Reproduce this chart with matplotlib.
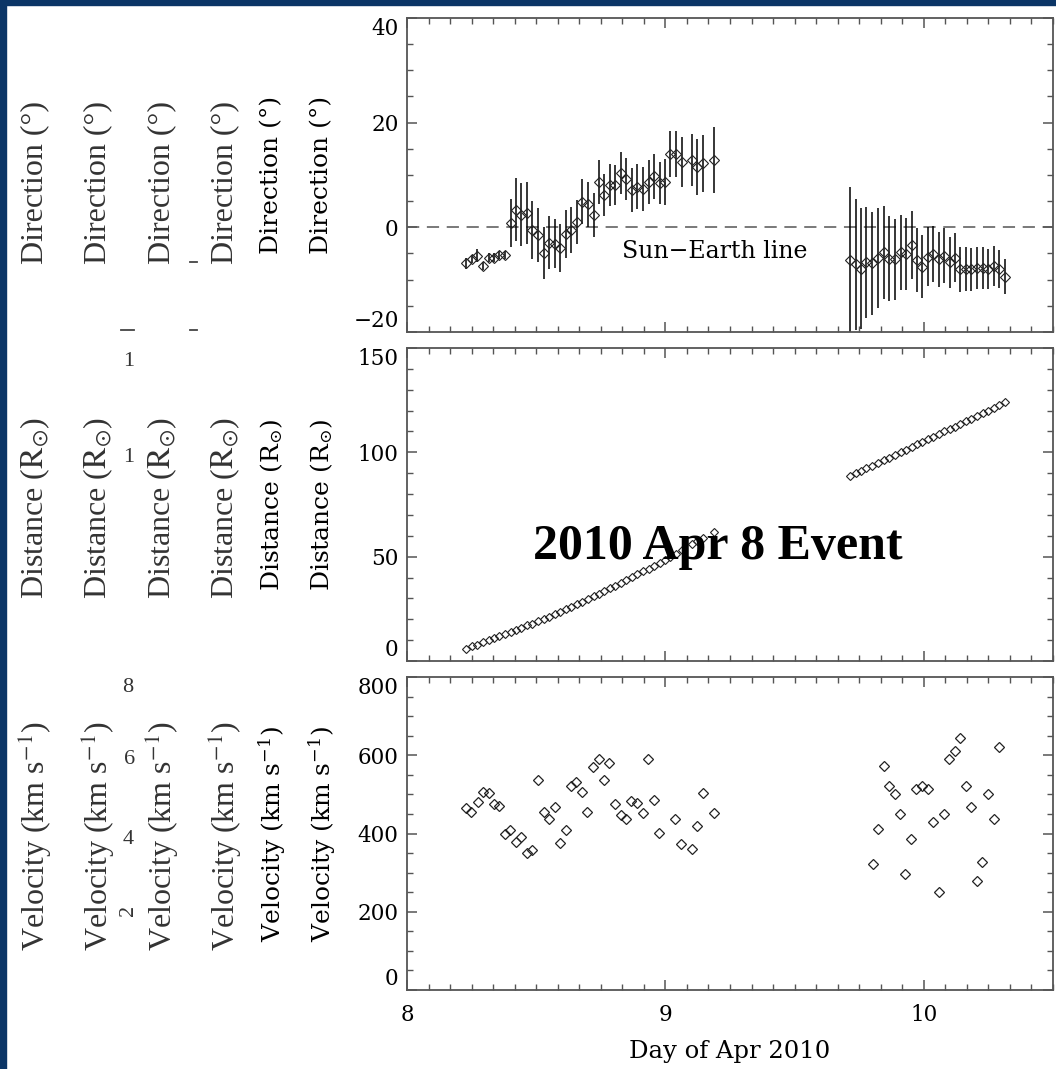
import matplotlib.pyplot as plt
from matplotlib.lines import Line2D
from matplotlib.patches import Rectangle
from matplotlib.ticker import MultipleLocator

plt.rcParams['font.family'] = ['DejaVu Serif']
plt.rcParams['mathtext.fontset'] = 'dejavuserif'

# propagation direction, early track (8-9 Apr)
t_early = [8.227, 8.253, 8.272, 8.294, 8.317, 8.337, 8.356, 8.378, 8.401, 8.421,
           8.443, 8.465, 8.485, 8.507, 8.529, 8.550, 8.572, 8.594, 8.614, 8.636,
           8.658, 8.679, 8.700, 8.723, 8.743, 8.763, 8.784, 8.806, 8.827, 8.849,
           8.871, 8.892, 8.914, 8.935, 8.956, 8.978, 9.000, 9.019, 9.040, 9.064,
           9.104, 9.124, 9.146, 9.188]
dir_early = [-6.9, -6.0, -5.4, -7.4, -5.8, -5.8, -5.3, -5.3, 0.8, 3.4,
             2.4, 2.7, -0.5, -1.5, -4.9, -2.9, -3.1, -4.0, -1.3, -0.5,
             1.1, 4.9, 4.4, 2.4, 8.7, 6.1, 8.1, 8.1, 10.3, 9.2,
             7.1, 7.8, 7.4, 8.7, 9.8, 8.5, 8.7, 14.0, 14.0, 12.5,
             12.9, 11.5, 12.2, 12.8]
dir_err_early = [1.0, 0.8, 1.3, 0.8, 0.8, 0.8, 0.7, 0.7, 4.6, 6.0,
                 6.0, 5.9, 5.6, 5.2, 4.9, 5.1, 4.7, 4.6, 4.6, 4.4,
                 4.2, 4.3, 4.3, 4.2, 4.2, 4.0, 4.0, 3.9, 4.0, 4.0,
                 4.2, 4.3, 4.2, 4.2, 4.3, 4.0, 4.4, 4.4, 4.4, 4.7,
                 5.0, 5.3, 5.5, 6.3]
dist_early = [5.8, 7.0, 7.9, 8.9, 10.0, 11.0, 11.9, 12.9, 13.9, 14.9,
              16.0, 17.1, 17.9, 19.1, 20.2, 21.3, 22.6, 23.7, 24.9, 26.1,
              27.3, 28.4, 29.7, 31.0, 32.2, 33.4, 34.8, 36.0, 37.4, 38.8,
              40.1, 41.5, 42.9, 44.3, 45.7, 47.1, 48.6, 50.0, 51.4, 53.0,
              55.9, 57.3, 58.8, 62.0]

# late track (9-10 Apr)
t_late = [9.716, 9.736, 9.758, 9.778, 9.800, 9.823, 9.845, 9.867, 9.888, 9.910,
          9.932, 9.953, 9.974, 9.994, 10.015, 10.036, 10.058, 10.080, 10.100, 10.120,
          10.142, 10.164, 10.184, 10.206, 10.228, 10.249, 10.270, 10.292, 10.313]
dir_late = [-6.3, -7.1, -7.9, -6.7, -6.9, -5.9, -4.8, -6.0, -6.1, -4.8,
            -5.1, -3.4, -6.2, -7.5, -5.6, -5.1, -6.1, -5.4, -6.7, -5.8,
            -8.0, -8.0, -8.0, -7.7, -7.7, -8.0, -7.4, -8.0, -9.4]
dir_err_late = [14.1, 12.6, 11.6, 10.6, 9.9, 9.5, 8.9, 8.1, 7.7, 7.1,
                6.9, 6.5, 6.1, 6.0, 5.7, 5.4, 5.3, 5.2, 4.8, 4.7,
                4.3, 4.2, 4.1, 4.0, 4.0, 3.8, 3.8, 3.6, 3.3]
dist_late = [88.7, 90.0, 91.2, 92.3, 93.6, 94.9, 96.1, 97.5, 98.7, 100.0,
             101.3, 102.5, 103.8, 105.0, 106.2, 107.5, 108.7, 110.0, 111.2, 112.3,
             113.6, 115.0, 116.2, 117.4, 118.7, 119.9, 121.2, 122.6, 124.0]

# velocity from the distance tracks
tv_early = [8.227, 8.249, 8.275, 8.294, 8.316, 8.337, 8.356, 8.378, 8.400, 8.421,
            8.443, 8.465, 8.485, 8.507, 8.529, 8.550, 8.572, 8.594, 8.614, 8.636,
            8.655, 8.677, 8.698, 8.720, 8.742, 8.763, 8.782, 8.806, 8.827, 8.849,
            8.868, 8.890, 8.914, 8.933, 8.955, 8.975, 9.039, 9.059, 9.103, 9.124,
            9.146, 9.187]
vel_early = [464, 456, 481, 505, 503, 475, 471, 400, 409, 379,
             392, 351, 358, 537, 454, 437, 467, 375, 409, 522,
             531, 505, 456, 571, 590, 537, 579, 475, 447, 437,
             484, 477, 452, 591, 486, 402, 437, 373, 360, 419,
             503, 452]
tv_late = [9.803, 9.822, 9.845, 9.865, 9.887, 9.907, 9.929, 9.952, 9.970, 9.994,
           10.015, 10.036, 10.058, 10.080, 10.099, 10.120, 10.142, 10.164, 10.184, 10.206,
           10.226, 10.249, 10.271, 10.290]
vel_late = [322, 412, 573, 522, 501, 450, 296, 386, 515, 522,
            515, 430, 251, 450, 591, 611, 643, 522, 469, 279,
            328, 501, 436, 622]

ylabels = ['Direction (°)', r'Distance ($\mathrm{R}_{⊙}$)', r'Velocity (km s$^{-1}$)']
y_limits = [(-20, 40), (0, 150), (0, 800)]
y_major = [20, 50, 200]
y_minor = [5, 10, 50]

W, H = 1056, 1069
BLUE = '#0b3566'
FRAME = '#555555'
SERIF = ['Liberation Serif', 'DejaVu Serif']

fig = plt.figure(figsize=(W / 100, H / 100), dpi=100)
fig.add_artist(Rectangle((0, 0), 6 / W, 1, transform=fig.transFigure, color=BLUE))
fig.add_artist(Rectangle((0, 1 - 5 / H), 1, 5 / H, transform=fig.transFigure, color=BLUE))

panels = [(18, 332), (348, 661), (677, 990)]
axes = []
for (top, bot), lim, maj, mnr in zip(panels, y_limits, y_major, y_minor):
    ax = fig.add_axes([407 / W, 1 - bot / H, 646 / W, (bot - top) / H])
    ax.set_xlim(8, 10.5)
    ax.set_ylim(*lim)
    ax.xaxis.set_major_locator(MultipleLocator(1))
    ax.xaxis.set_minor_locator(MultipleLocator(1 / 12))
    ax.set_yticks(range(lim[0], lim[1] + 1, maj))
    ax.yaxis.set_minor_locator(MultipleLocator(mnr))
    ax.tick_params(which='both', direction='in', top=True, right=True,
                   color=FRAME, labelsize=15.5)
    ax.tick_params(which='major', length=7.5, width=1.1)
    ax.tick_params(which='minor', length=4.5, width=1.0)
    ax.tick_params(axis='y', pad=6)
    ax.tick_params(axis='x', pad=10)
    # end labels sit inside the axis range
    ylab = ax.get_yticklabels()
    ylab[0].set_va('bottom')
    ylab[-1].set_va('top')
    for sp in ax.spines.values():
        sp.set_color(FRAME)
        sp.set_linewidth(1.3)
    if bot != 990:
        ax.tick_params(axis='x', labelbottom=False)
    axes.append(ax)

ax_dir, ax_dist, ax_vel = axes

# direction with error bars
ax_dir.axhline(0, color=FRAME, lw=1.1, dashes=(8, 5), zorder=1)
for t, v, e in [(t_early, dir_early, dir_err_early), (t_late, dir_late, dir_err_late)]:
    ax_dir.errorbar(t, v, yerr=e, fmt='none', ecolor='black', elinewidth=1.1,
                    capsize=0, zorder=2)
    ax_dir.plot(t, v, 'D', ms=5.4, mfc='none', mec='#222222', mew=0.8, zorder=3)
ax_dir.text(9.19, -4.6, 'Sun\u2212Earth line', ha='center', va='center', fontsize=17)

for t, d in [(t_early, dist_early), (t_late, dist_late)]:
    ax_dist.plot(t, d, 'D', ms=3.9, mfc='none', mec='#222222', mew=0.8)

for t, v in [(tv_early, vel_early), (tv_late, vel_late)]:
    ax_vel.plot(t, v, 'D', ms=5.6, mfc='none', mec='#222222', mew=0.9)

ax_vel.set_xlabel('Day of Apr 2010', fontsize=17.5, labelpad=10)

# stacked axis titles down the left side
centers_a = [183, 508, 836]
centers_b = [175, 505, 834]
for lab, ca, cb in zip(ylabels, centers_a, centers_b):
    for x in [35, 98, 162, 225]:
        fig.text(x / W, 1 - ca / H, lab, rotation=90, ha='center', va='center',
                 fontsize=23, family=SERIF, math_fontfamily='stix', color='#333333')
    for x in [272, 322]:
        fig.text(x / W, 1 - cb / H, lab, rotation=90, ha='center', va='center',
                 fontsize=18, color='black')

# leftover tick numbers between the titles
for s, x, y, rot in [('1', 129, 362, 0), ('1', 129, 458, 0), ('8', 128, 688, 0),
                     ('6', 130, 760, 0), ('4', 128, 840, 0), ('2', 128, 910, 90)]:
    fig.text(x / W, 1 - y / H, s, ha='center', va='center', rotation=rot,
             fontsize=16, family=SERIF, color='#333333')
for x0, x1, y in [(121, 134, 330), (190, 197, 330), (190, 197, 262)]:
    fig.add_artist(Line2D([x0 / W, x1 / W], [1 - y / H, 1 - y / H],
                          transform=fig.transFigure, color='#444444', lw=1.3))

fig.text(718 / W, 1 - 547 / H, '2010 Apr 8 Event', ha='center', va='center',
         fontsize=36, fontweight='bold', family=SERIF, zorder=5)

fig.savefig('out.png', dpi=100, facecolor='white')
